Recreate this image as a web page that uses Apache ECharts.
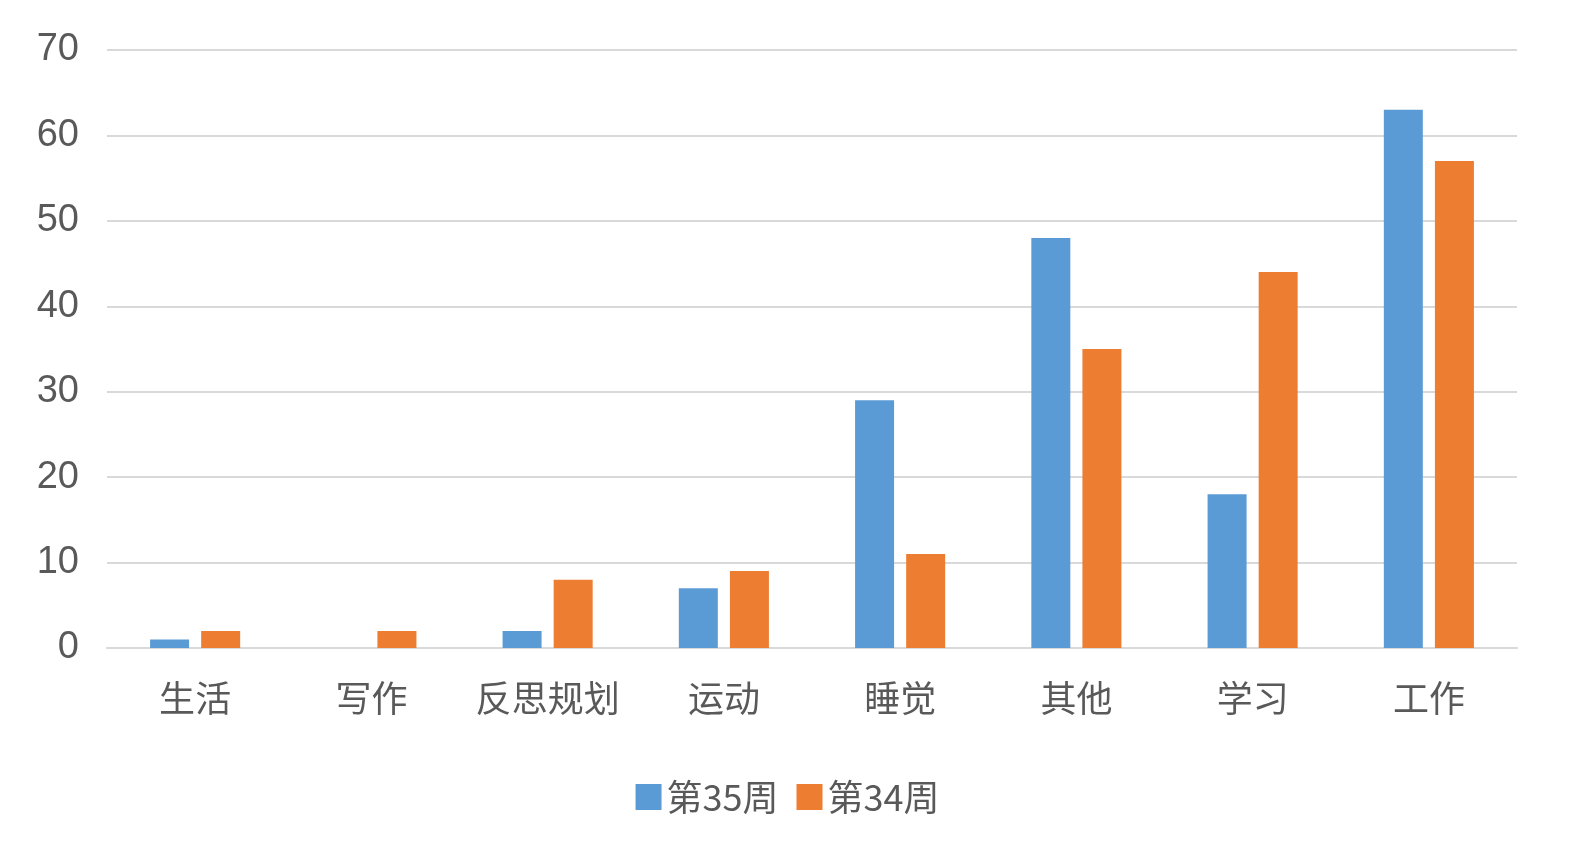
<!DOCTYPE html>
<html><head><meta charset="utf-8">
<script src="https://cdn.jsdelivr.net/npm/echarts@6/dist/echarts.min.js"></script>
<style>html,body{margin:0;padding:0;background:#fff;overflow:hidden}#c{width:1575px;height:865px}</style>
</head><body><div id="c"></div>
<script>
const categories = ['生活','写作','反思规划','运动','睡觉','其他','学习','工作'];
const week35 = [1,0,2,7,29,48,18,63];
const week34 = [2,2,8,9,11,35,44,57];
const yTicks = {min:0,max:70,interval:10};
const font = '"Noto Sans CJK SC", "Noto Sans", sans-serif';
const chart = echarts.init(document.getElementById('c'));
chart.setOption({
  animation:false,
  textStyle:{fontFamily:font},
  grid:{left:107,right:58,top:50,bottom:217,containLabel:false},
  legend:{bottom:45,left:'center',itemWidth:26,itemHeight:26,itemGap:18,icon:'rect',
    textStyle:{fontSize:36,color:'#595959',fontFamily:font},data:['第35周','第34周']},
  xAxis:{type:'category',data:categories,axisTick:{show:false},
    axisLine:{lineStyle:{color:'#d9d9d9',width:2}},
    axisLabel:{interval:0,fontSize:36,color:'#595959',margin:32,fontFamily:font}},
  yAxis:{type:'value',min:yTicks.min,max:yTicks.max,interval:yTicks.interval,
    axisLine:{show:false},axisTick:{show:false},
    splitLine:{lineStyle:{color:'#d9d9d9',width:2}},
    axisLabel:{fontSize:38,color:'#595959',margin:28,fontFamily:'"Liberation Sans", Arial, sans-serif'}},
  series:[
    {name:'第35周',type:'bar',data:week35,barWidth:39,barGap:'31%',itemStyle:{color:'#5B9BD5'}},
    {name:'第34周',type:'bar',data:week34,barWidth:39,itemStyle:{color:'#ED7D31'}}
  ]
});
</script></body></html>
